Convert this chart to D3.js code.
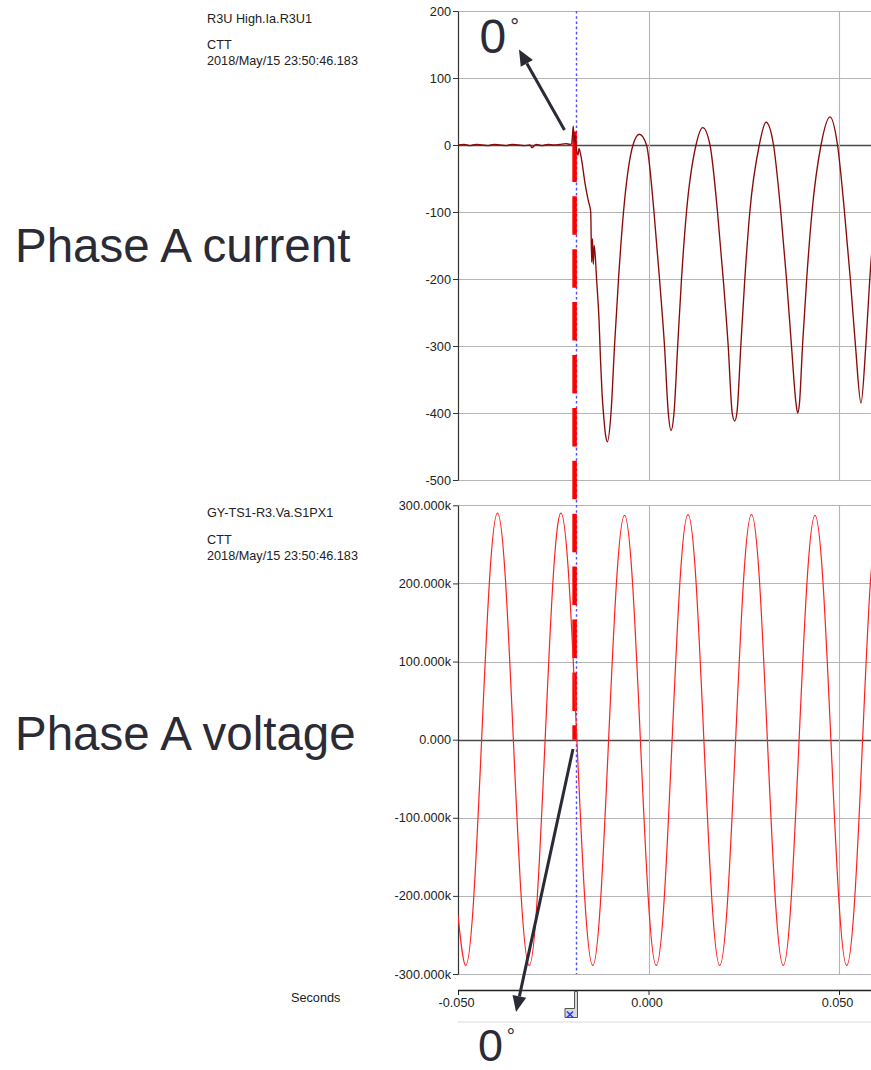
<!DOCTYPE html>
<html>
<head>
<meta charset="utf-8">
<script src="https://cdn.jsdelivr.net/npm/d3@7"></script>
<style>
  html, body { margin: 0; padding: 0; background: #fff; }
  svg { display: block; font-family: "Liberation Sans", Arial, sans-serif; }
</style>
</head>
<body>
<svg id="chart" width="871" height="1070"></svg>
<script>
// ---- Recorded samples (time in ms relative to trigger) ----
// Phase A current, amperes
const currentTimeMs = [-50.00,-48.43,-46.85,-45.28,-43.70,-42.13,-40.55,-38.98,-37.40,-35.83,-34.25,-32.68,-31.10,-30.58,-29.53,-27.95,-26.38,-24.80,-23.23,-21.65,-20.60,
  -20.16,-19.95,-19.74,-19.48,-19.21,-18.95,-18.50,-18.24,-17.98,-17.53,-16.67,-15.80,-15.17,-14.91,-14.70,-14.49,-14.23,-13.60,-12.99,-12.60,-12.20,-11.68,-11.29,-10.81,
  -9.84,-8.92,-7.87,-6.56,-4.07,-2.41,-0.52,1.44,2.89,4.20,5.20,5.91,
  6.69,7.66,8.66,9.97,12.47,14.23,16.14,18.11,19.61,20.92,21.97,22.62,
  23.20,24.23,25.28,26.59,29.08,30.84,32.81,34.72,36.22,37.53,38.71,39.16,
  39.63,40.42,41.52,42.91,45.28,47.64,49.61,51.44,52.97,54.33,55.77,
  57.03,58.08,59.45];
const currentAmps = [0,1,-1,1,0,-1,1,0,-1,1,0,-1,0,-4,1,-1,1,0,1,2,1,
  2,15,28,5,14,-5,-15,-5,-10,-23,-57,-83,-100,-175,-140,-178,-150,-203,-260,-320,-370,-410,-432,-443,
  -400,-300,-200,-100,0,16,0,-100,-200,-300,-400,-426,
  -400,-300,-200,-100,0,26,0,-100,-200,-300,-400,-412,
  -400,-300,-200,-100,0,34,0,-100,-200,-300,-385,-400,
  -385,-300,-200,-100,0,42,0,-100,-200,-300,-385,
  -300,-200,-100];

// Phase A voltage, kV
const voltageTimeMs = [-50.00,-47.97,-45.89,-43.80,-41.72,-39.63,-37.55,-35.47,-33.38,-31.30,-29.22,-27.13,-25.05,-22.97,-20.88,-18.80,-16.72,-14.63,-12.55,-10.47,-8.38,-6.30,-4.22,-2.13,-0.05,2.03,4.12,6.20,8.28,10.37,12.45,14.53,16.62,18.70,20.78,22.87,24.95,27.03,29.12,31.20,33.28,35.37,37.45,39.53,41.62,43.70,45.78,47.87,49.95,52.03,54.12,56.20,58.28,60.37];
const voltageKV = [-225,-289,-204,0,205,290,205,0,-204,-289,-204,0,205,290,204,0,-204,-289,-204,0,203,287,203,0,-204,-289,-204,0,204,288,204,0,-204,-289,-204,0,204,288,204,0,-204,-289,-204,0,203,287,203,0,-204,-289,-204,0,204,288];

// Axis ticks
const currentTicks = [200, 100, 0, -100, -200, -300, -400, -500];
const voltageTicks = [300, 200, 100, 0, -100, -200, -300];
const timeTicksMs = [-50, 0, 50];

// Event markers
const faultTimeMs = -19.4;   // fault inception (0° reference)
const cursorTimeMs = -19.0;  // analysis cursor

// Channel headers
const currentHeader = ["R3U High.Ia.R3U1", "CTT", "2018/May/15 23:50:46.183"];
const voltageHeader = ["GY-TS1-R3.Va.S1PX1", "CTT", "2018/May/15 23:50:46.183"];

// ---- Layout ----
const plotL = 458, plotR = 871;
const svg = d3.select("#chart");

const x = d3.scaleLinear().domain([-50, 50]).range([458, 839]);
const yI = d3.scaleLinear().domain([-500, 200]).range([480, 11]);
const yV = d3.scaleLinear().domain([-300, 300]).range([974, 505.3]);

const gridColor = "#b4b4b4";
const zeroColor = "#4a4a4a";
const textColor = "#222";
const smallFont = "12.7px";

const defs = svg.append("defs");
defs.append("clipPath").attr("id", "clipI").append("rect")
  .attr("x", plotL).attr("y", yI(200) - 1).attr("width", plotR - plotL).attr("height", yI(-500) - yI(200) + 2);
defs.append("clipPath").attr("id", "clipV").append("rect")
  .attr("x", plotL).attr("y", yV(300) - 1).attr("width", plotR - plotL).attr("height", yV(-300) - yV(300) + 2);

function panel(y, ticks, fmt) {
  const g = svg.append("g");
  // horizontal grid
  g.selectAll("line.h").data(ticks).join("line")
    .attr("x1", plotL).attr("x2", plotR)
    .attr("y1", d => Math.round(y(d)) + 0.5).attr("y2", d => Math.round(y(d)) + 0.5)
    .attr("stroke", d => d === 0 ? zeroColor : gridColor)
    .attr("stroke-width", d => d === 0 ? 1.3 : 1.1);
  // vertical grid
  g.selectAll("line.v").data(timeTicksMs.filter(t => t > -50)).join("line")
    .attr("x1", d => Math.round(x(d)) + 0.5).attr("x2", d => Math.round(x(d)) + 0.5)
    .attr("y1", y.range()[1]).attr("y2", y.range()[0])
    .attr("stroke", gridColor).attr("stroke-width", 1.1);
  // left axis
  const ax = g.append("g").attr("transform", `translate(${plotL},0)`)
    .call(d3.axisLeft(y).tickValues(ticks).tickSize(5).tickSizeOuter(0).tickPadding(2).tickFormat(fmt));
  ax.select(".domain").attr("stroke", "#333").attr("stroke-width", 1.2);
  ax.selectAll(".tick line").attr("stroke", "#333");
  ax.selectAll(".tick text").attr("fill", textColor).style("font-size", smallFont)
    .style("font-family", "'Liberation Sans', Arial, sans-serif");
  return g;
}

panel(yI, currentTicks, d => String(d));
panel(yV, voltageTicks, d => d === 0 ? "0.000" : d.toFixed(3) + "k");

// channel headers
function header(lines, top) {
  const t = svg.append("g").attr("fill", textColor).style("font-size", smallFont);
  t.append("text").attr("x", 207).attr("y", top).text(lines[0]);
  t.append("text").attr("x", 207).attr("y", top + 26.6).text(lines[1]);
  t.append("text").attr("x", 207).attr("y", top + 42.3).text(lines[2]);
}
header(currentHeader, 22.7);
header(voltageHeader, 517.3);

// cursor (blue dotted)
const cx = Math.round(x(cursorTimeMs)) + 0.5;
svg.append("line")
  .attr("x1", cx).attr("x2", cx).attr("y1", yI(200)).attr("y2", yV(-300))
  .attr("stroke", "#4d4dff").attr("stroke-width", 1.4).attr("stroke-dasharray", "2.6,2.6");

// fault inception marker (thick red dashes)
const fx = x(faultTimeMs);
const fy1 = 131.5, fy2 = yV(0);
const dashParts = ["50.4", "14.4"];
for (let i = 0; i < 12; i++) dashParts.push("38.5", "14.4");
svg.append("line")
  .attr("x1", fx).attr("x2", fx).attr("y1", fy1).attr("y2", fy2)
  .attr("stroke", "#ff0000").attr("stroke-width", 4.5)
  .attr("stroke-dasharray", dashParts.join(","));

// waveforms
const currentLine = d3.line()
  .x(i => x(currentTimeMs[i])).y(i => yI(currentAmps[i]))
  .curve(d3.curveMonotoneX);
svg.append("path").attr("clip-path", "url(#clipI)")
  .attr("d", currentLine(d3.range(currentTimeMs.length)))
  .attr("fill", "none").attr("stroke", "#8b0a0a").attr("stroke-width", 1.35)
  .attr("stroke-linejoin", "round");

const voltageLine = d3.line()
  .x(i => x(voltageTimeMs[i])).y(i => yV(voltageKV[i]))
  .curve(d3.curveNatural);
svg.append("path").attr("clip-path", "url(#clipV)")
  .attr("d", voltageLine(d3.range(voltageTimeMs.length)))
  .attr("fill", "none").attr("stroke", "#ff2020").attr("stroke-width", 1.2);

// time axis
const xAxisY = 990;
const xa = svg.append("g").attr("transform", `translate(0,${xAxisY})`)
  .call(d3.axisBottom(x).tickValues(timeTicksMs).tickSize(5).tickSizeOuter(0).tickPadding(3)
    .tickFormat(d => (d / 1000).toFixed(3)));
xa.select(".domain").attr("d", `M${plotL},0.5H${plotR}`).attr("stroke", "#222").attr("stroke-width", 1.3);
xa.selectAll(".tick line").attr("stroke", "#222");
xa.selectAll(".tick text").attr("fill", textColor).style("font-size", smallFont)
  .style("font-family", "'Liberation Sans', Arial, sans-serif").attr("dx", "-2");

svg.append("text").attr("x", 291).attr("y", 1001.5).attr("fill", textColor)
  .style("font-size", smallFont).text("Seconds");

// cursor handle on the time axis
const hx = Math.round(x(cursorTimeMs));
const handle = svg.append("g");
handle.append("path")
  .attr("d", `M${hx - 1.5},${xAxisY + 1.5} h3 v26 h-12.5 v-9 h9.5 z`)
  .attr("fill", "#d8d8d8").attr("stroke", "#555").attr("stroke-width", 1);
handle.append("path")
  .attr("d", `M${hx - 9},${xAxisY + 21.5} l6,6 M${hx - 3},${xAxisY + 21.5} l-6,6`)
  .attr("stroke", "#2a3cff").attr("stroke-width", 1.6);

// scrollbar track under the axis
svg.append("line").attr("x1", plotL).attr("x2", plotR).attr("y1", 1022).attr("y2", 1022)
  .attr("stroke", "#ececec").attr("stroke-width", 2);

// ---- Annotations ----
const annColor = "#2b2b36";
svg.append("text").attr("x", 15).attr("y", 261.7).attr("fill", annColor)
  .style("font-size", "47.5px").text("Phase A current");
svg.append("text").attr("x", 15).attr("y", 750).attr("fill", annColor)
  .style("font-size", "47.5px").text("Phase A voltage");

function degreeLabel(x0, base, size) {
  const g = svg.append("g").attr("fill", annColor);
  g.append("text").attr("x", x0).attr("y", base).style("font-size", size + "px").text("0");
  g.append("text").attr("x", x0 + size * 0.64).attr("y", base - size * 0.4)
    .style("font-size", (size * 0.46) + "px").text("°");
}
degreeLabel(479.5, 53, 48);
degreeLabel(478, 1060.5, 45);

function arrow(x1, y1, x2, y2) {
  const ang = Math.atan2(y2 - y1, x2 - x1);
  const len = 16, half = 7;
  const bx = x2 - len * Math.cos(ang), by = y2 - len * Math.sin(ang);
  svg.append("line").attr("x1", x1).attr("y1", y1).attr("x2", bx).attr("y2", by)
    .attr("stroke", annColor).attr("stroke-width", 3);
  const px = -Math.sin(ang) * half, py = Math.cos(ang) * half;
  svg.append("path")
    .attr("d", `M${x2},${y2} L${bx + px},${by + py} L${bx - px},${by - py} Z`)
    .attr("fill", annColor);
}
arrow(564.5, 130, 519, 49.5);
arrow(573, 749, 516, 1012);
</script>
</body>
</html>
